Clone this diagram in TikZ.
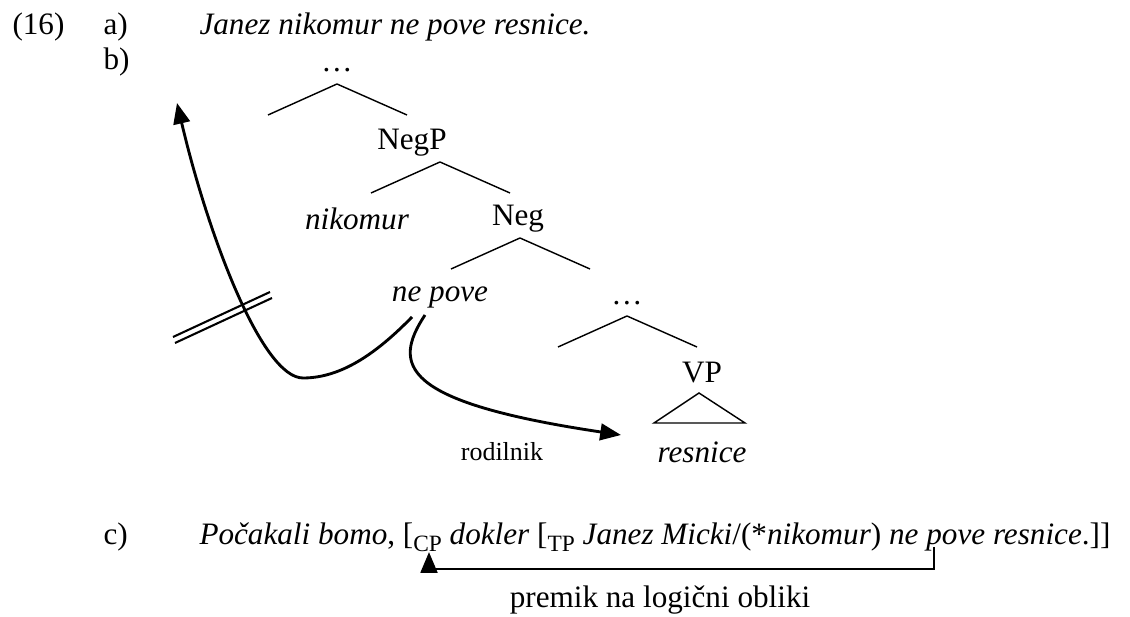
\documentclass[tikz,border=0pt]{standalone}
\usepackage{fontspec}
\setmainfont{Liberation Serif}
\usetikzlibrary{arrows.meta}
\newcommand\podp[1]{\raisebox{-2.6pt}{\fontsize{9}{10}\selectfont #1}}
\tikzset{
  besedilo/.style={inner sep=0pt,font=\fontsize{12}{14}\selectfont},
  drobno/.style={inner sep=0pt,font=\fontsize{10}{12}\selectfont},
  veja/.style={line width=0.55pt},
  premik/.style={line width=1.1pt,-{Triangle[length=8pt,width=6.4pt]}},
}
\begin{document}
\begin{tikzpicture}[x=0.385pt,y=-0.385pt]
  \useasboundingbox (0,0) rectangle (1130,617);
  % oznake in primeri
  \node[besedilo,anchor=base west] (st) at (12,35) {(16)};
  \node[besedilo,anchor=base west] (pa) at (103,35) {a)};
  \node[besedilo,anchor=base west] (sa) at (199,35) {\itshape Janez nikomur ne pove resnice.};
  \node[besedilo,anchor=base west] (pb) at (103,70) {b)};
  \node[besedilo,anchor=base west] (pc) at (103,545) {c)};
  \node[besedilo,anchor=base west] (sc) at (199,545)
    {\textit{Počakali bomo}, [\podp{CP} \textit{dokler} [\podp{TP} \textit{Janez Micki}/(*\textit{nikomur}) \textit{ne pove resnice}.]]};
  % drevo
  \node[besedilo] (vrh) at (337,70) {\ldots};
  \node[besedilo] (negp) at (412,143) {NegP};
  \node[besedilo] (nik) at (357,219) {\itshape nikomur};
  \node[besedilo] (neg) at (518,219) {Neg};
  \node[besedilo] (nepove) at (440,297) {\itshape ne pove};
  \node[besedilo] (tri) at (627,303) {\ldots};
  \node[besedilo] (vp) at (702,373) {VP};
  \node[besedilo] (res) at (702,452) {\itshape resnice};
  \node[drobno] (rod) at (502,452) {rodilnik};
  % vozlisca vej
  \coordinate (v1) at (337,84);
  \coordinate (v2) at (440,162);
  \coordinate (v3) at (520,238);
  \coordinate (v4) at (627,316);
  \foreach \v in {v1,v2,v3,v4}
    \draw[veja] (\v) -- ++(-69,31) (\v) -- ++(70,31);
  \coordinate (v5) at (699,393);
  \draw[veja] (v5) -- ++(-45,30) -- ++(91,0) -- cycle; % trikotnik
  % premiki
  \coordinate (zg) at (177,103);
  \coordinate (dno) at (303,378);
  \draw[premik] (412,317) .. controls (375,355) and (340,378) .. (dno)
    .. controls (262,378) and (208,235) .. (zg);
  \draw[line width=0.8pt] (173,337) -- (270,292) (175,343) -- (272,298); % blokada
  \coordinate (rc) at (621,435);
  \draw[premik] (425,315) .. controls (392,365) and (400,402) .. (rc);
  % premik na LF
  \coordinate (pz) at (934,547);
  \coordinate (cp) at (429,552);
  \draw[premik] (pz) -- ++(0,22) -| (cp);
  \node[besedilo] (lf) at (660,600) {premik na logični obliki};
\end{tikzpicture}
\end{document}
